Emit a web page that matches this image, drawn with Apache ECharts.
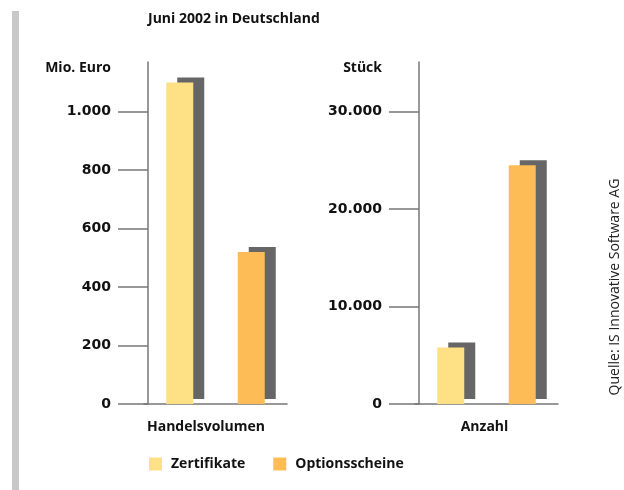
<!DOCTYPE html>
<html>
<head>
<meta charset="utf-8">
<script src="https://cdn.jsdelivr.net/npm/echarts@6/dist/echarts.min.js"></script>
<style>html,body{margin:0;padding:0;background:#fff}#c{width:624px;height:490px}</style>
</head>
<body>
<div id="c"></div>
<script>
const categories = ['Zertifikate', 'Optionsscheine'];
const handelsvolumen = [1100, 520];      // Mio. Euro
const anzahl = [5800, 24500];            // Stück
const ticksLeft = [0, 200, 400, 600, 800, 1000];
const ticksRight = [0, 10000, 20000, 30000];
const colors = ['#FEE085', '#FDBC55'];

const FONT = '"Open Sans", "DejaVu Sans", sans-serif';
const NUMFONT = '"DejaVu Sans", "Open Sans", sans-serif';
const FS = 14;
const fmt = v => String(v).replace(/\B(?=(\d{3})+(?!\d))/g, '.');

const chart = echarts.init(document.getElementById('c'));

function yAx(gi, max, ticks, name) {
  return {
    type: 'value', gridIndex: gi, min: 0, max: max, offset: -4,
    name: name, nameLocation: 'end', nameGap: -6,
    nameTextStyle: { fontFamily: FONT, fontWeight: 'bold', fontSize: FS, color: '#111',
      align: 'right', verticalAlign: 'middle', padding: [0, 37, 0, 0] },
    axisLine: { show: true, lineStyle: { color: '#777', width: 1.5 } },
    axisTick: { show: true, length: 30, customValues: ticks, lineStyle: { color: '#777', width: 1.5 } },
    axisLabel: { customValues: ticks, formatter: fmt, margin: 37, fontFamily: NUMFONT,
      fontWeight: 'bold', fontSize: FS, color: '#111' },
    splitLine: { show: false }
  };
}
function xAx(gi, name, pad) {
  return {
    type: 'category', gridIndex: gi, data: categories,
    name: name, nameLocation: 'middle', nameGap: 23,
    nameTextStyle: { fontFamily: FONT, fontWeight: 'bold', fontSize: FS, color: '#111',
      verticalAlign: 'middle', padding: pad },
    axisLine: { show: true, lineStyle: { color: '#777', width: 1.5 } },
    axisTick: { show: false }, axisLabel: { show: false }
  };
}
function bars(gi, values) {
  return categories.map((c, i) => ({
    name: c, type: 'bar', xAxisIndex: gi, yAxisIndex: gi, stack: 'g' + gi,
    barWidth: 27,
    data: values.map((v, j) => j === i ? v : '-'),
    itemStyle: { color: colors[i], shadowColor: '#666666', shadowBlur: 0,
      shadowOffsetX: 11, shadowOffsetY: -5 },
    emphasis: { disabled: true }
  }));
}

chart.setOption({
  animation: false,
  color: colors,
  grid: [
    { left: 144, width: 143, top: 62, height: 342 },
    { left: 415, width: 143, top: 62, height: 342 }
  ],
  xAxis: [xAx(0, 'Handelsvolumen', [0, 19, 0, 0]), xAx(1, 'Anzahl', [0, 4, 0, 0])],
  yAxis: [yAx(0, 1170, ticksLeft, 'Mio. Euro'), yAx(1, 35100, ticksRight, 'Stück')],
  legend: {
    data: categories, left: 144, top: 452, icon: 'rect', itemWidth: 13, itemHeight: 13,
    itemGap: 28, selectedMode: false,
    textStyle: { fontFamily: FONT, fontWeight: 'bold', fontSize: FS, color: '#111', padding: [0, 0, 0, 4] }
  },
  graphic: [
    { type: 'rect', left: 12, top: 11, shape: { width: 7, height: 479 }, style: { fill: '#c8c8c8' } },
    { type: 'text', left: 148, top: 12, style: { text: 'Juni 2002 in Deutschland', font: 'bold 14px ' + FONT, fill: '#111' } },
    { type: 'text', x: 615, y: 287, rotation: Math.PI / 2,
      style: { text: 'Quelle: IS Innovative Software AG', font: '14px ' + FONT, fill: '#222',
        align: 'center', verticalAlign: 'middle' } }
  ],
  series: [...bars(0, handelsvolumen), ...bars(1, anzahl)]
});
</script>
</body>
</html>
